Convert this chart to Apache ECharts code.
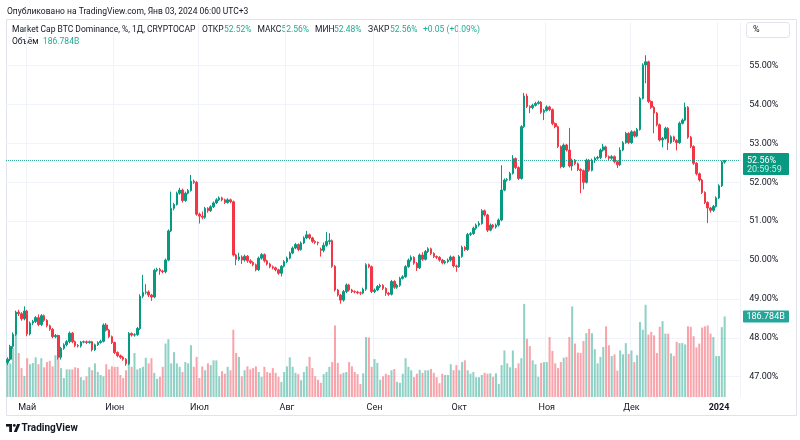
<!DOCTYPE html>
<html lang="ru">
<head>
<meta charset="UTF-8" />
<title>BTC Dominance</title>
<script src="https://cdn.jsdelivr.net/npm/echarts@6/dist/echarts.min.js"></script>
<style>
  html, body { margin: 0; padding: 0; background: #fff; }
  #chart { width: 800px; height: 440px; }
</style>
</head>
<body>
<div id="chart"></div>
<script>
// daily candles, 2023-04-24 .. 2024-01-03 (BTC dominance, %)
const opens = [
  47.36,47.45,47.78,48.09,48.66,48.62,48.49,48.69,48.10,48.38,
  48.42,48.52,48.34,48.57,48.45,48.31,48.22,48.03,48.06,47.50,
  47.73,47.82,47.90,48.12,47.90,47.80,47.79,47.89,47.90,47.88,
  47.90,47.69,47.82,47.88,47.91,48.33,48.20,48.03,47.88,47.62,
  47.54,47.50,47.45,47.33,48.11,48.07,48.08,48.24,49.07,49.17,
  49.18,49.10,49.05,49.74,49.76,49.72,49.70,50.00,50.75,51.33,
  51.43,51.72,51.80,51.53,51.72,51.79,52.03,52.00,51.18,51.13,
  51.10,51.33,51.27,51.37,51.47,51.55,51.60,51.55,51.48,51.55,
  51.50,50.13,50.02,50.08,50.00,50.10,49.98,49.94,49.88,49.75,
  50.05,50.14,49.98,49.90,49.83,49.80,49.75,49.66,49.84,49.96,
  50.05,50.18,50.31,50.40,50.27,50.44,50.57,50.65,50.57,50.48,
  50.45,50.28,50.25,50.38,50.48,50.50,49.84,49.23,49.10,48.97,
  49.19,49.36,49.23,49.19,49.18,49.16,49.15,49.25,49.88,49.83,
  49.19,49.23,49.32,49.35,49.27,49.15,49.12,49.45,49.30,49.35,
  49.53,49.57,49.83,50.00,50.07,49.92,49.80,50.13,50.02,50.22,
  50.29,50.17,50.09,50.07,50.00,49.93,49.96,50.00,50.08,49.85,
  49.83,50.09,50.33,50.27,50.66,50.68,50.82,50.90,50.94,51.27,
  51.16,50.77,50.90,50.85,50.90,51.03,51.80,52.06,52.07,52.23,
  52.61,52.38,52.10,53.43,54.22,53.95,53.92,53.98,54.03,54.06,
  53.80,53.85,53.94,53.87,53.51,53.43,52.92,52.40,52.96,52.83,
  52.42,52.57,52.48,52.33,52.30,52.00,52.57,52.31,52.57,52.62,
  52.64,52.83,52.91,52.66,52.62,52.66,52.53,52.45,52.83,53.02,
  53.26,53.02,53.30,53.19,53.36,54.16,55.02,55.10,54.08,53.93,
  53.78,53.48,53.09,53.13,53.39,53.02,53.17,53.08,53.02,53.52,
  53.60,53.93,53.16,52.92,52.49,52.22,52.06,51.74,51.48,51.34,
  51.28,51.38,51.60,51.91,52.52
];
const closes = [
  47.45,47.78,48.09,48.66,48.62,48.49,48.69,48.10,48.38,48.42,
  48.52,48.34,48.57,48.45,48.31,48.22,48.03,48.06,47.50,47.73,
  47.82,47.90,48.12,47.90,47.80,47.79,47.89,47.90,47.88,47.90,
  47.69,47.82,47.88,47.91,48.33,48.20,48.03,47.88,47.62,47.54,
  47.50,47.45,47.33,48.11,48.07,48.08,48.24,49.07,49.17,49.18,
  49.10,49.05,49.74,49.76,49.72,49.70,50.00,50.75,51.33,51.43,
  51.72,51.80,51.53,51.72,51.79,52.03,52.00,51.18,51.13,51.10,
  51.33,51.27,51.37,51.47,51.55,51.60,51.55,51.48,51.55,51.50,
  50.13,50.02,50.08,50.00,50.10,49.98,49.94,49.88,49.75,50.05,
  50.14,49.98,49.90,49.83,49.80,49.75,49.66,49.84,49.96,50.05,
  50.18,50.31,50.40,50.27,50.44,50.57,50.65,50.57,50.48,50.45,
  50.44,50.25,50.38,50.48,50.50,49.84,49.23,49.10,48.97,49.19,
  49.36,49.23,49.19,49.18,49.16,49.15,49.25,49.88,49.83,49.19,
  49.23,49.32,49.35,49.27,49.15,49.12,49.45,49.30,49.35,49.53,
  49.57,49.83,50.00,50.07,49.92,49.80,50.13,50.02,50.22,50.29,
  50.17,50.09,50.07,50.00,49.93,49.96,50.00,50.08,49.85,49.83,
  50.09,50.33,50.27,50.66,50.68,50.82,50.90,50.94,51.27,51.16,
  50.77,50.90,50.85,50.90,51.03,51.80,52.06,52.07,52.23,52.61,
  52.38,52.10,53.43,54.22,53.95,53.92,53.98,54.03,54.06,53.80,
  53.85,53.94,53.87,53.51,53.43,52.92,52.40,52.96,52.83,52.42,
  52.57,52.48,52.33,52.30,52.00,52.57,52.31,52.57,52.62,52.64,
  52.83,52.91,52.66,52.62,52.66,52.53,52.45,52.83,53.02,53.26,
  53.02,53.30,53.19,53.36,54.16,55.02,55.10,54.08,53.93,53.78,
  53.48,53.09,53.13,53.39,53.02,53.17,53.08,53.02,53.52,53.60,
  53.93,53.16,52.92,52.49,52.22,52.06,51.74,51.48,51.34,51.28,
  51.38,51.60,51.91,52.52,52.56
];
const lows = [
  47.30,47.40,47.72,48.05,48.56,48.44,48.45,48.04,48.06,48.33,
  48.38,48.30,48.30,48.41,48.27,48.18,47.99,47.99,47.44,47.44,
  47.69,47.78,47.86,47.86,47.76,47.75,47.75,47.86,47.84,47.85,
  47.65,47.66,47.79,47.85,47.88,48.16,47.99,47.84,47.58,47.50,
  47.46,47.41,47.28,47.30,48.03,48.03,48.05,48.20,49.02,49.12,
  49.05,48.95,49.02,49.70,49.62,49.66,49.66,49.97,50.72,51.28,
  51.40,51.68,51.48,51.50,51.69,51.76,51.96,51.14,50.94,51.05,
  51.06,51.22,51.24,51.34,51.44,51.52,51.51,51.44,51.45,51.46,
  50.09,49.87,49.98,49.90,49.96,49.93,49.90,49.84,49.71,49.72,
  50.01,49.94,49.86,49.79,49.76,49.71,49.62,49.58,49.81,49.92,
  50.02,50.15,50.28,50.23,50.24,50.41,50.54,50.53,50.44,50.41,
  50.38,50.09,50.20,50.34,50.40,49.80,49.19,49.06,48.88,48.93,
  49.15,49.19,49.15,49.14,49.12,49.10,49.12,49.21,49.79,49.15,
  49.15,49.20,49.28,49.23,49.08,49.08,49.09,49.26,49.26,49.31,
  49.50,49.54,49.80,49.96,49.88,49.72,49.77,49.98,49.99,50.18,
  50.13,50.05,50.03,49.96,49.89,49.89,49.92,49.96,49.81,49.70,
  49.80,50.06,50.23,50.24,50.62,50.65,50.78,50.86,50.91,51.12,
  50.72,50.74,50.81,50.81,50.86,51.00,51.77,52.02,52.04,52.20,
  52.34,52.06,52.07,53.40,53.91,53.78,53.88,53.95,54.00,53.76,
  53.60,53.82,53.83,53.47,53.39,52.88,52.36,52.37,52.79,52.38,
  52.30,52.44,52.29,51.72,51.82,51.97,52.27,52.28,52.50,52.58,
  52.60,52.79,52.62,52.56,52.58,52.49,52.37,52.42,52.80,52.99,
  52.98,52.99,53.15,53.16,53.33,54.13,54.55,54.04,53.89,53.26,
  53.44,53.05,52.90,53.10,52.83,52.99,53.04,52.82,52.99,53.49,
  53.57,53.12,52.88,52.45,52.18,52.02,51.70,51.44,50.95,51.22,
  51.24,51.35,51.57,51.88,52.48
];
const highs = [
  47.50,47.82,48.14,48.70,48.72,48.66,48.81,48.72,48.42,48.46,
  48.56,48.60,48.61,48.60,48.48,48.34,48.25,48.10,48.08,47.77,
  47.86,47.94,48.16,48.15,47.93,47.84,47.92,47.93,47.93,47.93,
  47.92,47.85,47.91,47.95,48.37,48.38,48.23,48.06,47.90,47.65,
  47.57,47.53,47.48,48.15,48.14,48.12,48.28,49.12,49.62,49.38,
  49.22,49.13,49.78,49.80,49.80,49.75,50.04,50.79,51.76,51.47,
  51.76,51.86,51.84,51.76,51.83,52.19,52.07,52.03,51.22,51.25,
  51.37,51.36,51.41,51.51,51.59,51.64,51.63,51.58,51.59,51.58,
  51.53,50.16,50.19,50.12,50.14,50.13,50.02,49.97,49.91,50.09,
  50.18,50.17,50.01,49.93,49.86,49.83,49.78,49.87,50.00,50.09,
  50.22,50.35,50.44,50.43,50.48,50.61,50.75,50.68,50.60,50.51,
  50.48,50.32,50.45,50.72,50.69,50.53,49.87,49.26,49.13,49.23,
  49.40,49.39,49.26,49.22,49.21,49.19,49.29,49.92,49.91,49.86,
  49.27,49.36,49.39,49.38,49.30,49.18,49.49,49.48,49.39,49.57,
  49.61,49.87,50.04,50.12,50.10,49.95,50.17,50.20,50.26,50.33,
  50.32,50.20,50.12,50.10,50.03,50.00,50.04,50.12,50.11,49.88,
  50.13,50.37,50.36,50.70,50.72,50.86,50.94,51.00,51.31,51.30,
  51.19,50.94,50.93,50.94,51.07,52.44,52.10,52.11,52.27,52.70,
  52.64,52.41,53.47,54.30,54.28,53.98,54.02,54.07,54.10,54.09,
  53.89,53.98,53.97,53.90,53.54,53.46,52.95,53.00,52.99,53.40,
  52.61,52.60,52.51,52.36,52.33,52.61,52.60,52.61,52.66,52.68,
  52.87,52.99,52.94,52.69,52.70,52.69,52.56,52.90,53.06,53.30,
  53.29,53.34,53.33,53.40,54.20,55.06,55.27,55.13,54.11,53.96,
  53.81,53.51,53.17,53.43,53.42,53.21,53.20,53.11,53.56,53.64,
  54.05,53.96,53.19,52.95,52.52,52.25,52.09,51.77,51.51,51.37,
  51.42,51.64,51.95,52.56,52.56
];
// volume, billions
const volumes = [
  84,78,113,168,102,67,49,90,76,79,
  92,76,90,69,81,84,71,97,92,67,
  44,64,64,64,69,67,46,39,48,69,
  62,78,58,51,48,76,64,71,70,70,
  51,44,62,100,70,102,64,67,70,91,
  78,90,56,42,47,70,124,134,78,104,
  78,70,58,81,78,120,70,93,44,71,
  62,78,74,85,85,48,60,54,70,62,
  156,102,93,48,62,71,64,67,71,58,
  47,70,58,56,67,56,47,35,58,71,
  92,70,56,53,39,58,71,93,67,48,
  40,33,53,58,70,81,166,79,53,56,
  58,81,71,58,53,30,55,139,138,70,
  88,79,40,48,54,51,62,65,35,33,
  54,90,70,62,46,54,63,56,62,62,
  65,56,46,32,54,51,51,76,62,74,
  62,81,85,62,54,58,46,46,51,56,
  54,55,47,55,30,74,108,78,69,108,
  67,78,90,216,135,118,85,76,47,79,
  81,81,139,107,78,67,81,91,93,139,
  210,124,103,102,130,148,158,148,111,78,
  93,116,164,120,95,99,61,108,99,125,
  100,108,81,97,174,156,214,145,151,143,
  102,163,176,147,147,101,95,128,125,125,
  122,164,163,141,115,124,161,164,166,147,
  139,95,95,162,186.784
];
const monthNames = ["Янв", "Фев", "Мар", "Апр", "Май", "Июн", "Июл", "Авг", "Сен", "Окт", "Ноя", "Дек"];

// categories: candle days plus a few empty days of right margin
const dates = [];
for (let i = 0; i < 260; i++) {
  const d = new Date(2023, 3, 24 + i);
  const mm = String(d.getMonth() + 1).padStart(2, "0");
  const dd = String(d.getDate()).padStart(2, "0");
  dates.push(d.getFullYear() + "-" + mm + "-" + dd);
}

const upColor = "#089981";
const downColor = "#f23645";
const textColor = "#131722";
const gridLine = "#f0f3fa";
const font = 'Roboto, "Liberation Sans", Arial, sans-serif';
const fs = 9;
const headFs = 8.5;

const isMonthStart = (idx, value) => String(value).endsWith("-01");

const candles = opens.map((o, i) => [o, closes[i], lows[i], highs[i]]);
const volumeBars = volumes.map((v, i) => ({
  value: v,
  itemStyle: { color: closes[i] >= opens[i] ? "rgba(8,153,129,0.45)" : "rgba(242,54,69,0.45)" },
}));

function txt(id, x, y, text, color, extra) {
  return {
    type: "text",
    id: id,
    x: x,
    y: y,
    silent: true,
    style: Object.assign(
      { text: text, fill: color, fontSize: headFs, fontFamily: font, verticalAlign: "middle", align: "left" },
      extra || {}
    ),
  };
}

const chart = echarts.init(document.getElementById("chart"));
const option = {
  animation: false,
  backgroundColor: "#fff",
  textStyle: { fontFamily: font },
  grid: [
    { left: 6, width: 734.2, top: 65.7, height: 311 },
    { left: 6, width: 734.2, top: 22, height: 375 },
  ],
  xAxis: [
    { type: "category", gridIndex: 0, data: dates, show: false },
    {
      type: "category",
      gridIndex: 1,
      data: dates,
      axisLine: { show: false },
      axisTick: { show: false },
      axisLabel: {
        interval: isMonthStart,
        margin: 6,
        color: textColor,
        fontSize: fs,
        formatter: (value) => {
          const parts = value.split("-");
          if (parts[1] === "01") return "{b|" + parts[0] + "}";
          return monthNames[Number(parts[1]) - 1];
        },
        rich: { b: { fontWeight: "bold", fontSize: fs, color: textColor } },
      },
      splitLine: { show: true, interval: isMonthStart, lineStyle: { color: gridLine } },
    },
  ],
  yAxis: [
    {
      type: "value",
      gridIndex: 0,
      position: "right",
      min: 47,
      max: 55,
      interval: 1,
      axisLine: { show: false },
      axisTick: { show: false },
      axisLabel: {
        margin: 9,
        color: textColor,
        fontSize: fs,
        formatter: (v) => v.toFixed(2) + "%",
      },
      splitLine: { lineStyle: { color: gridLine } },
    },
    { type: "value", gridIndex: 1, min: 0, max: 870, show: false, splitLine: { show: false } },
  ],
  series: [
    {
      type: "bar",
      xAxisIndex: 1,
      yAxisIndex: 1,
      data: volumeBars,
      barWidth: "72%",
      silent: true,
    },
    {
      type: "candlestick",
      xAxisIndex: 0,
      yAxisIndex: 0,
      data: candles,
      clip: false,
      barWidth: "72%",
      itemStyle: {
        color: upColor,
        color0: downColor,
        borderColor: upColor,
        borderColor0: downColor,
        borderWidth: 1,
      },
      markLine: {
        silent: true,
        symbol: "none",
        label: { show: false },
        lineStyle: { type: "dotted", color: upColor, width: 1, opacity: 0.8 },
        data: [{ yAxis: closes[closes.length - 1] }],
      },
    },
  ],
  graphic: {
    elements: [
      {
        type: "rect",
        id: "frame",
        silent: true,
        shape: { x: 6.5, y: 19.5, width: 790, height: 396 },
        style: { fill: "none", stroke: "#e0e3eb", lineWidth: 1 },
      },
      txt("pub", 7, 12, "Опубликовано на TradingView.com, Янв 03, 2024 06:00 UTC+3", textColor),
      txt("sym", 12, 30, "Market Cap BTC Dominance, %, 1Д, CRYPTOCAP", textColor),
      txt("o1", 202, 30, "ОТКР", textColor),
      txt("o2", 224, 30, "52.52%", "#22ab94"),
      txt("h1", 257.5, 30, "МАКС", textColor),
      txt("h2", 281.5, 30, "52.56%", "#22ab94"),
      txt("l1", 315, 30, "МИН", textColor),
      txt("l2", 334, 30, "52.48%", "#22ab94"),
      txt("c1", 368, 30, "ЗАКР", textColor),
      txt("c2", 390, 30, "52.56%", "#22ab94"),
      txt("chg", 423, 30, "+0.05 (+0.09%)", "#22ab94"),
      txt("v1", 12, 42, "Объём", textColor),
      txt("v2", 43, 42, "186.784B", "#22ab94"),
      {
        type: "rect",
        id: "unitBox",
        silent: true,
        shape: { x: 746.5, y: 22.5, width: 43, height: 15, r: 3 },
        style: { fill: "#fff", stroke: "#e0e3eb", lineWidth: 1 },
      },
      txt("unit", 753, 30, "%", textColor, { fontSize: fs }),
      {
        type: "rect",
        id: "logoA",
        silent: true,
        shape: { x: 6, y: 424, width: 6, height: 2.6 },
        style: { fill: textColor },
      },
      {
        type: "rect",
        id: "logoB",
        silent: true,
        shape: { x: 9.2, y: 424, width: 2.8, height: 8 },
        style: { fill: textColor },
      },
      {
        type: "circle",
        id: "logoC",
        silent: true,
        shape: { cx: 14.3, cy: 425.4, r: 1.4 },
        style: { fill: textColor },
      },
      {
        type: "polygon",
        id: "logoD",
        silent: true,
        shape: { points: [[13.8, 432], [17.2, 424], [20.2, 424], [16.8, 432]] },
        style: { fill: textColor },
      },
      txt("tv", 21.5, 428.5, "TradingView", textColor, { fontSize: 10, fontWeight: "bold" }),
    ],
  },
};
chart.setOption(option);

// price and volume tags on the right scale, placed through the axes
const last = closes.length - 1;
const priceY = chart.convertToPixel({ yAxisIndex: 0 }, closes[last]);
const volY = chart.convertToPixel({ yAxisIndex: 1 }, volumes[last]);
chart.setOption({
  graphic: {
    elements: [
      {
        type: "rect",
        id: "priceTag",
        silent: true,
        shape: { x: 743, y: priceY - 7.5, width: 46, height: 22, r: 1 },
        style: { fill: "#089981" },
      },
      txt("priceTxt", 747, priceY, closes[last].toFixed(2) + "%", "#fff", { fontSize: fs }),
      txt("timer", 747, priceY + 9.5, "20:59:59", "rgba(255,255,255,0.8)", { fontSize: fs }),
      {
        type: "rect",
        id: "volTag",
        silent: true,
        shape: { x: 743, y: volY - 6, width: 46, height: 12, r: 1 },
        style: { fill: "#26a69a" },
      },
      txt("volTxt", 746.5, volY, volumes[last].toFixed(3) + "B", "#fff", { fontSize: fs }),
    ],
  },
});
</script>
</body>
</html>
